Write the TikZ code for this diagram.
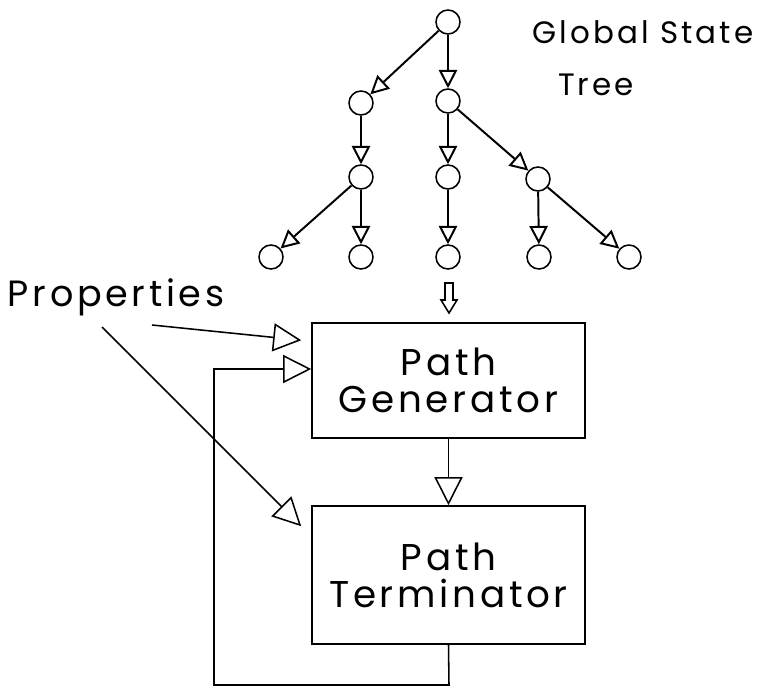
\documentclass[tikz,border=0pt]{standalone}
\usepackage{fontspec}
\setmainfont{Poppins}
\newfontfamily\plotfont{Poppins}[LetterSpace=10]
\usetikzlibrary{arrows.meta}
\tikzset{
  state/.style={draw,circle,minimum size=0.6cm,inner sep=0pt},
  treearrow/.style={line width=1.4pt,-{Triangle[open,length=13pt,width=13pt]}},
  boxarrow/.style={-{Triangle[open,length=20pt,width=20pt]}},
  stage/.style={draw,rectangle,minimum width=6.825cm,align=center,font=\plotfont\fontsize{26.5}{26.5}\selectfont},
}
\begin{document}
\begin{tikzpicture}[x=0.025cm,y=-0.025cm,line width=1.1pt]
\useasboundingbox (0,0) rectangle (762,686);
% global state tree
\node[state] (r) at (448,22) {};
\node[state] (a1) at (361,103) {};
\node[state] (a2) at (448,101) {};
\node[state] (b1) at (361,177) {};
\node[state] (b2) at (448,177) {};
\node[state] (b3) at (538,179) {};
\node[state] (c1) at (271,257) {};
\node[state] (c2) at (361,257) {};
\node[state] (c3) at (448,257) {};
\node[state] (c4) at (539,257) {};
\node[state] (c5) at (629,257) {};
\draw[treearrow] (r) -- (a1);
\draw[treearrow] (r) -- (a2);
\draw[treearrow] (a1) -- (b1);
\draw[treearrow] (a2) -- (b2);
\draw[treearrow] (a2) -- (b3);
\draw[treearrow] (b1) -- (c1);
\draw[treearrow] (b1) -- (c2);
\draw[treearrow] (b2) -- (c3);
\draw[treearrow] (b3) -- (c4);
\draw[treearrow] (b3) -- (c5);
\node[font=\plotfont\fontsize{22}{27}\selectfont] (title) at (643,32) {Global State};
\node[font=\plotfont\fontsize{22}{27}\selectfont] (title2) at (596,85) {Tree};
% hollow arrow into the generator
\draw (445,283) -- (453,283) -- (453,300) -- (457,300) -- (449,313) -- (441,300) -- (445,300) -- cycle;
% the two stages
\node[stage,minimum height=2.875cm] (gen) at (448.5,380.5) {Path\\Generator};
\node[stage,minimum height=3.45cm] (term) at (448.5,575) {Path\\Terminator};
\draw[boxarrow] (gen) -- (term);
% properties
\node[font=\plotfont\fontsize{26}{27}\selectfont] (prop) at (116,297) {Properties};
\coordinate (p1) at (152,325);
\coordinate (p2) at (102,327);
\draw[boxarrow] (p1) -- ([shift={(-10,18)}]gen.north west);
\draw[boxarrow] (p2) -- ([shift={(-10,21)}]term.north west);
% feedback loop
\coordinate (fbA) at (449,685);
\coordinate (fbB) at (214,685);
\coordinate (fbC) at (214,369);
\draw[boxarrow] (term.south) -- (fbA) -- (fbB) -- (fbC) -- (fbC -| gen.west);
\end{tikzpicture}
\end{document}
